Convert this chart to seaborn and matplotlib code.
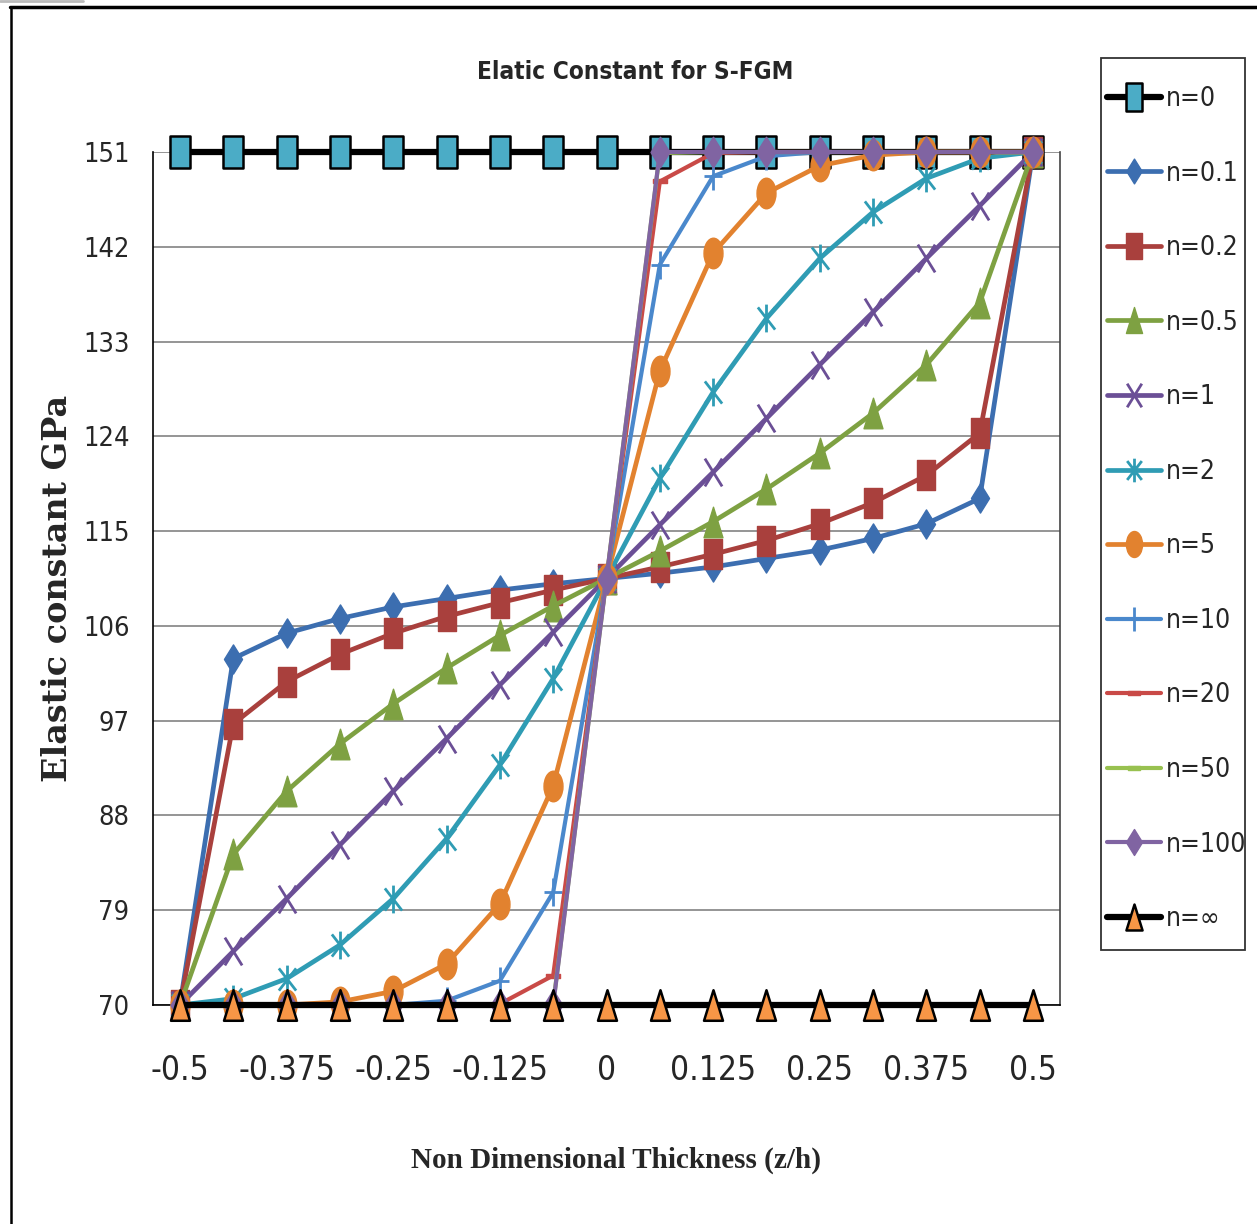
import numpy as np
import pandas as pd
import matplotlib
matplotlib.use("Agg")
import matplotlib.pyplot as plt
import seaborn as sns
from matplotlib.path import Path
from matplotlib.lines import Line2D
from matplotlib.patches import Rectangle
from matplotlib import font_manager as fm

# ---------------- data ----------------
z = [-0.5, -0.4375, -0.375, -0.3125, -0.25, -0.1875, -0.125, -0.0625, 0,
     0.0625, 0.125, 0.1875, 0.25, 0.3125, 0.375, 0.4375, 0.5]
x_ticks = [-0.5, -0.375, -0.25, -0.125, 0, 0.125, 0.25, 0.375, 0.5]
x_tick_labels = ["-0.5", "-0.375", "-0.25", "-0.125", "0", "0.125", "0.25", "0.375", "0.5"]
y_ticks = [70, 79, 88, 97, 106, 115, 124, 133, 142, 151]

E_n0 = [151, 151, 151, 151, 151, 151, 151, 151, 151, 151, 151, 151, 151, 151, 151, 151, 151]
E_n01 = [70, 102.9, 105.3, 106.7, 107.8, 108.6, 109.4, 110.0, 110.5, 111.0, 111.6, 112.4, 113.2, 114.3, 115.7, 118.1, 151]
E_n02 = [70, 96.7, 100.7, 103.3, 105.3, 106.9, 108.2, 109.4, 110.5, 111.6, 112.8, 114.1, 115.7, 117.7, 120.3, 124.3, 151]
E_n05 = [70, 84.3, 90.3, 94.8, 98.6, 102.0, 105.1, 107.9, 110.5, 113.1, 115.9, 119.0, 122.4, 126.2, 130.8, 136.7, 151]
E_n1 = [70, 75.1, 80.1, 85.2, 90.3, 95.3, 100.4, 105.4, 110.5, 115.6, 120.6, 125.7, 130.8, 135.8, 140.9, 145.9, 151]
E_n2 = [70, 70.6, 72.5, 75.7, 80.1, 85.8, 92.8, 101.0, 110.5, 120.0, 128.2, 135.2, 140.9, 145.3, 148.5, 150.4, 151]
E_n5 = [70, 70.0, 70.0, 70.3, 71.3, 73.9, 79.6, 90.8, 110.5, 130.2, 141.4, 147.1, 149.7, 150.7, 151.0, 151.0, 151]
E_n10 = [70, 70.0, 70.0, 70.0, 70.0, 70.4, 72.3, 80.7, 110.5, 140.3, 148.7, 150.6, 151.0, 151.0, 151.0, 151.0, 151]
E_n20 = [70, 70, 70, 70, 70, 70, 70.1, 72.8, 110.5, 148.2, 150.9, 151, 151, 151, 151, 151, 151]
E_n50 = [70, 70, 70, 70, 70, 70, 70, 70.1, 110.5, 150.9, 151, 151, 151, 151, 151, 151, 151]
E_n100 = [70, 70, 70, 70, 70, 70, 70, 70, 110.5, 151, 151, 151, 151, 151, 151, 151, 151]
E_ninf = [70, 70, 70, 70, 70, 70, 70, 70, 70, 70, 70, 70, 70, 70, 70, 70, 70]

series_labels = ["n=0", "n=0.1", "n=0.2", "n=0.5", "n=1", "n=2", "n=5",
                 "n=10", "n=20", "n=50", "n=100", "n=\u221e"]
series_values = [E_n0, E_n01, E_n02, E_n05, E_n1, E_n2, E_n5,
                 E_n10, E_n20, E_n50, E_n100, E_ninf]

# ---------------- fonts ----------------
sns.set_style("white")
names = {f.name for f in fm.fontManager.ttflist}
def has_stretch(name, stretch):
    return any(f.name == name and str(f.stretch) == stretch for f in fm.fontManager.ttflist)

if "Liberation Sans Narrow" in names:
    SANS = dict(family=["Liberation Sans Narrow", "DejaVu Sans"])
    SANS_STRETCH = "normal"
elif has_stretch("DejaVu Sans", "condensed"):
    SANS = dict(family=["DejaVu Sans"], fontstretch="condensed")
    SANS_STRETCH = "condensed"
else:
    SANS = dict(family=["Liberation Sans", "DejaVu Sans"])
    SANS_STRETCH = "normal"
SERIF = dict(family=["Liberation Serif", "DejaVu Serif"])
SERIF_WIDE = dict(family=["DejaVu Serif"])
plt.rcParams["font.family"] = SANS["family"]

# ---------------- marker shapes (horizontally squeezed like the source) ----------------
SX = 0.62
def squash(verts, codes, sx=SX):
    v = np.asarray(verts, float) * np.array([sx, 1.0])
    return Path(v, codes)

C = Path.CLOSEPOLY
M, L = Path.MOVETO, Path.LINETO
m_square = squash([(-1, -1), (1, -1), (1, 1), (-1, 1), (-1, -1)], [M, L, L, L, C])
m_diamond = squash([(0, 1), (1, 0), (0, -1), (-1, 0), (0, 1)], [M, L, L, L, C])
m_tri = squash([(0, 1), (1, -1), (-1, -1), (0, 1)], [M, L, L, C])
uc = Path.unit_circle()
m_circle = squash(uc.vertices, uc.codes)
m_x = squash([(-1, -1), (1, 1), (-1, 1), (1, -1)], [M, L, M, L])
m_star = squash([(-1, -0.8), (1, 0.8), (-1, 0.8), (1, -0.8), (0, -1), (0, 1)], [M, L, M, L, M, L])
m_plus = squash([(0, -1), (0, 1), (-1, 0), (1, 0)], [M, L, M, L])
m_dash = Path([(-1, -0.35), (1, -0.35), (1, 0.35), (-1, 0.35), (-1, -0.35)], [M, L, L, L, C])

styles = [
    dict(color="black", lw=4.5, marker=m_square, ms=23, mfc="#4BACC6", mec="black", mew=1.8),
    dict(color="#3C6EB0", lw=3.4, marker=m_diamond, ms=21, mfc="#3C6EB0", mec="#3C6EB0", mew=1),
    dict(color="#A9403D", lw=3.4, marker=m_square, ms=22, mfc="#A9403D", mec="#A9403D", mew=1),
    dict(color="#7EA142", lw=3.4, marker=m_tri, ms=22, mfc="#7EA142", mec="#7EA142", mew=1),
    dict(color="#6B4F96", lw=3.4, marker=m_x, ms=20, mfc="#6B4F96", mec="#6B4F96", mew=2),
    dict(color="#2F9CB4", lw=3.4, marker=m_star, ms=20, mfc="#2F9CB4", mec="#2F9CB4", mew=2),
    dict(color="#E2822F", lw=3.4, marker=m_circle, ms=22, mfc="#E2822F", mec="#E2822F", mew=1),
    dict(color="#4A88CC", lw=3.0, marker=m_plus, ms=20, mfc="#4A88CC", mec="#4A88CC", mew=2),
    dict(color="#C94A47", lw=3.0, marker=m_dash, ms=10, mfc="#C94A47", mec="#C94A47", mew=1),
    dict(color="#98C150", lw=3.0, marker=m_dash, ms=10, mfc="#98C150", mec="#98C150", mew=1),
    dict(color="#8064A2", lw=3.0, marker=m_diamond, ms=22, mfc="#8064A2", mec="#8064A2", mew=1),
    dict(color="black", lw=4.5, marker=m_tri, ms=22, mfc="#F79646", mec="black", mew=1.8),
]

# ---------------- figure ----------------
W, H = 1257, 1224
fig = plt.figure(figsize=(W / 100, H / 100), dpi=100)
ax = fig.add_axes([153 / W, 1 - 1005 / H, (1060 - 153) / W, (1005 - 152) / H])

for i, (lab, vals, st) in enumerate(zip(series_labels, series_values, styles)):
    df = pd.DataFrame({"z": z, "E": vals})
    sns.lineplot(data=df, x="z", y="E", ax=ax, label=lab, color=st["color"],
                 linewidth=st["lw"], marker=st["marker"], markersize=st["ms"],
                 mfc=st["mfc"], mec=st["mec"], mew=st["mew"], clip_on=False,
                 zorder=3 + i, legend=True)

ax.set_xlim(-0.5316, 0.5316)
ax.set_ylim(70, 151)
ax.set_yticks(y_ticks)
ax.set_yticklabels([str(v) for v in y_ticks], fontsize=19.5, **SANS)
ax.set_xticks(x_ticks)
ax.set_xticklabels(x_tick_labels, fontsize=24, **SANS)
ax.tick_params(axis="x", length=0, pad=35)
ax.tick_params(axis="y", length=7, width=1.2, color="black", direction="out", pad=10)
ax.yaxis.grid(True, color="#8C8C8C", linewidth=1.3)
ax.xaxis.grid(False)
ax.set_axisbelow(True)
for s in ["left", "bottom"]:
    ax.spines[s].set_color("black")
    ax.spines[s].set_linewidth(1.2)
ax.spines["right"].set_color("#444444")
ax.spines["right"].set_linewidth(1.2)
ax.spines["top"].set_visible(False)
ax.set_xlabel("")
ax.set_ylabel("")

fig.text(635 / W, 1 - 72 / H, "Elatic Constant for S-FGM", ha="center", va="center",
         fontsize=17.5, fontweight="bold", **SANS)
fig.text(616 / W, 1 - 1160 / H, "Non Dimensional Thickness (z/h)", ha="center", va="center",
         fontsize=21, fontweight="bold", **SERIF)
fig.text(58 / W, 1 - 588 / H, "Elastic constant GPa", ha="center", va="center",
         rotation=90, fontsize=24, fontweight="bold", **SERIF_WIDE)

# legend: entries via matplotlib legend, frame drawn to the source's box
LFS = 19
handles, labels = ax.get_legend_handles_labels()
leg = ax.legend(handles, labels, loc="upper left",
                bbox_to_anchor=(1107 / W, 1 - 86 / H), bbox_transform=fig.transFigure,
                prop=fm.FontProperties(family=SANS["family"], size=LFS, stretch=SANS_STRETCH),
                frameon=False, borderaxespad=0, borderpad=0,
                handlelength=2.05, handletextpad=0.2, labelspacing=1.84,
                markerscale=0.85)
fig.add_artist(Rectangle((1101 / W, 1 - 950 / H), 144 / W, 892 / H, transform=fig.transFigure,
                         fill=False, edgecolor="#333333", linewidth=1.3))

# outer frame of the picture
fig.add_artist(Line2D([10 / W, 1.0], [1 - 7 / H, 1 - 7 / H], color="black", lw=2.5,
                      transform=fig.transFigure))
fig.add_artist(Line2D([11 / W, 11 / W], [0, 1 - 7 / H], color="black", lw=1.8,
                      transform=fig.transFigure))
fig.add_artist(Line2D([0, 83 / W], [1 - 1 / H, 1 - 1 / H], color="#BBBBBB", lw=2,
                      transform=fig.transFigure))

fig.savefig("out.png", dpi=100)
